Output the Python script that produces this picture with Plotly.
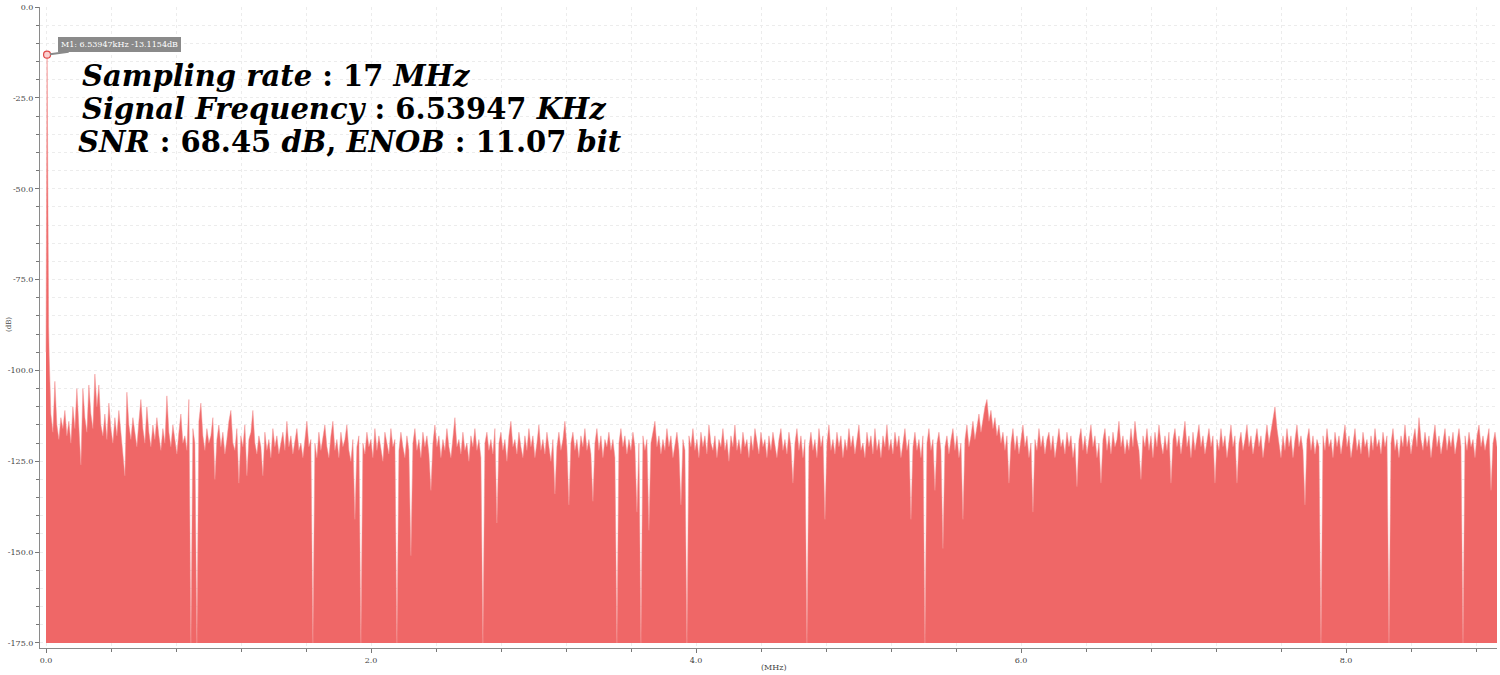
import numpy as np
import plotly.graph_objects as go

# ---------------- data ----------------
# fine bins around DC and the signal tone (MHz, dB)
peak_freq_mhz = [0.0, 0.00327, 0.00654, 0.00981, 0.01308, 0.01635, 0.01962, 0.02289, 0.02616]
peak_db = [-95.0, -30.0, -13.1154, -36.0, -83.0, -88.0, -96.0, -103.0, -109.0]

# noise floor from 0.03 MHz up to 8.929 MHz (evenly spaced bins, dB)
noise_start_mhz = 0.03
noise_stop_mhz = 8.929
noise_db = [
    -112, -117, -103, -115, -119, -113, -116, -111, -118, -114, -120, -110, -116, -105, -114, -126, -105, -113, -117, -104,
    -112, -116, -101, -110, -104, -115, -118, -112, -119, -109, -116, -120, -113, -118, -111, -117, -121, -129, -106, -115,
    -119, -113, -117, -121, -114, -108, -116, -120, -110, -117, -121, -115, -119, -113, -118, -122, -116, -120, -107, -117,
    -121, -115, -119, -123, -117, -112, -120, -118, -122, -108, -175, -116, -120, -175, -114, -109, -118, -122, -116, -120,
    -118, -113, -130, -119, -115, -121, -117, -123, -119, -114, -111, -120, -122, -116, -131, -118, -121, -115, -129, -119,
    -117, -111, -120, -123, -118, -121, -129, -117, -122, -119, -124, -116, -121, -118, -123, -120, -117, -122, -114, -121,
    -118, -123, -119, -116, -122, -120, -124, -118, -114, -121, -119, -175, -120, -124, -117, -122, -119, -115, -121, -124,
    -118, -114, -122, -119, -124, -117, -121, -119, -115, -122, -125, -119, -141, -121, -118, -175, -120, -123, -117, -121,
    -119, -124, -116, -122, -118, -121, -125, -117, -120, -123, -116, -121, -119, -175, -122, -117, -121, -124, -118, -122,
    -151, -120, -116, -122, -119, -124, -117, -121, -118, -123, -133, -120, -115, -121, -118, -124, -119, -122, -116, -121,
    -124, -118, -113, -121, -119, -123, -117, -122, -120, -125, -118, -121, -116, -122, -119, -124, -175, -120, -117, -122,
    -119, -123, -116, -142, -120, -117, -122, -119, -125, -118, -114, -121, -119, -123, -117, -121, -124, -118, -122, -116,
    -121, -118, -124, -120, -115, -122, -119, -123, -117, -121, -125, -119, -134, -121, -117, -122, -119, -114, -121, -137,
    -120, -117, -122, -119, -124, -118, -121, -116, -122, -119, -123, -136, -120, -116, -122, -118, -124, -119, -121, -117,
    -122, -119, -124, -175, -120, -116, -121, -118, -123, -119, -122, -117, -121, -139, -120, -175, -118, -122, -119, -144,
    -120, -117, -114, -121, -118, -123, -119, -122, -116, -121, -118, -124, -120, -117, -122, -137, -119, -122, -175, -118,
    -121, -116, -122, -119, -124, -117, -121, -118, -123, -115, -120, -122, -118, -124, -119, -121, -116, -122, -119, -125,
    -118, -121, -115, -122, -119, -123, -117, -121, -119, -124, -118, -122, -116, -120, -123, -117, -121, -119, -124, -118,
    -122, -117, -120, -124, -119, -116, -122, -119, -123, -117, -121, -131, -120, -116, -122, -118, -124, -119, -175, -121,
    -117, -122, -119, -124, -116, -121, -118, -141, -120, -115, -122, -119, -123, -117, -121, -118, -124, -119, -122, -116,
    -121, -118, -123, -119, -115, -122, -120, -124, -117, -121, -118, -123, -116, -122, -119, -124, -118, -121, -115, -122,
    -119, -123, -117, -121, -118, -124, -120, -116, -122, -119, -141, -121, -117, -122, -119, -124, -118, -175, -120, -116,
    -122, -119, -133, -120, -117, -122, -149, -121, -118, -123, -119, -116, -122, -118, -124, -120, -141, -119, -115, -121,
    -118, -114, -119, -116, -112, -117, -113, -110, -108, -114, -111, -116, -113, -118, -115, -120, -117, -122, -118, -131,
    -120, -116, -122, -118, -123, -119, -115, -121, -118, -124, -120, -139, -119, -122, -116, -121, -118, -123, -119, -117,
    -122, -118, -124, -120, -116, -121, -119, -123, -117, -121, -118, -124, -120, -132, -119, -116, -122, -118, -123, -119,
    -115, -121, -118, -124, -120, -131, -119, -116, -122, -118, -123, -117, -121, -119, -114, -121, -118, -123, -119, -122,
    -116, -121, -114, -119, -122, -130, -118, -121, -116, -122, -118, -124, -117, -121, -115, -120, -123, -118, -122, -117,
    -131, -119, -116, -121, -118, -123, -119, -114, -121, -118, -124, -117, -122, -119, -115, -121, -118, -123, -120, -116,
    -121, -118, -131, -119, -122, -116, -121, -118, -124, -119, -115, -121, -118, -131, -120, -117, -122, -119, -115, -121,
    -118, -123, -119, -116, -121, -118, -124, -119, -115, -120, -117, -113, -110, -116, -120, -124, -118, -122, -116, -121,
    -118, -124, -119, -115, -121, -118, -122, -137, -119, -116, -122, -118, -123, -119, -121, -175, -118, -122, -116, -121,
    -119, -124, -117, -121, -118, -123, -119, -115, -121, -118, -124, -120, -116, -122, -119, -123, -117, -121, -119, -124,
    -118, -122, -116, -121, -119, -123, -117, -121, -118, -175, -120, -116, -122, -119, -124, -118, -121, -115, -121, -118,
    -123, -119, -116, -121, -113, -119, -122, -117, -121, -118, -124, -119, -115, -121, -118, -123, -119, -116, -122, -118,
    -121, -117, -123, -119, -116, -121, -175, -118, -122, -117, -121, -119, -124, -118, -115, -121, -118, -122, -119, -116,
    -133, -120, -117, -121,
]

marker_freq_mhz = 0.00654
marker_db = -13.1154
marker_label = "M1: 6.53947kHz -13.1154dB"

floor_db = -175.0
x_tick_vals = [0.0, 2.0, 4.0, 6.0, 8.0]
x_tick_text = ["0.0", "2.0", "4.0", "6.0", "8.0"]
y_tick_vals = [0.0, -25.0, -50.0, -75.0, -100.0, -125.0, -150.0, -175.0]
y_tick_text = ["0.0", "-25.0", "-50.0", "-75.0", "-100.0", "-125.0", "-150.0", "-175.0"]

text_lines = [
    "<b><i>Sampling rate</i> : 17 <i>MHz</i></b>",
    "<b><i>Signal Frequency</i> : 6.53947 <i>KHz</i></b>",
    "<b><i>SNR</i> : 68.45 <i>dB</i>, <i>ENOB</i> : 11.07 <i>bit</i></b>",
]

# ---------------- build ----------------
noise_freq = np.linspace(noise_start_mhz, noise_stop_mhz, len(noise_db))
freq = list(peak_freq_mhz) + list(noise_freq)
db = list(peak_db) + list(noise_db)

W, H = 1500, 675
ML, MR, MT, MB = 40, 3, 7, 27
PW, PH = W - ML - MR, H - MT - MB


def paper(px, py):
    """screen pixel -> paper coordinates"""
    return (px - ML) / PW, 1 - (py - MT) / PH


fill_col = "#ef6767"

fig = go.Figure()
fig.add_trace(go.Scatter(x=freq, y=[floor_db] * len(freq), mode="lines",
                         line=dict(width=0, color=fill_col), hoverinfo="skip",
                         showlegend=False))
fig.add_trace(go.Scatter(x=freq, y=db, mode="lines", fill="tonexty",
                         fillcolor=fill_col, line=dict(width=0.5, color="#f29090"),
                         showlegend=False))
fig.add_trace(go.Scatter(x=[marker_freq_mhz], y=[marker_db], mode="markers",
                         marker=dict(symbol="circle", size=7, color="#fbd0d0",
                                     line=dict(color="#e04848", width=1.2)),
                         showlegend=False))

annotations = [
    dict(x=marker_freq_mhz, y=marker_db, xref="x", yref="y", text=marker_label,
         showarrow=True, ax=72, ay=-10, arrowhead=0, arrowwidth=2, arrowcolor="#8a8a8a",
         standoff=3, bgcolor="#8a8a8a", bordercolor="#8a8a8a", borderpad=2,
         font=dict(family="DejaVu Serif", size=8, color="white")),
]
for (lx, ly), txt in zip([(80, 76), (80, 109), (76, 142)], text_lines):
    px_, py_ = paper(lx, ly)
    annotations.append(dict(x=px_, y=py_, xref="paper", yref="paper", text=txt,
                            showarrow=False, xanchor="left", yanchor="middle",
                            font=dict(family="DejaVu Serif", size=29, color="black")))
tx, ty = paper(774, 667)
annotations.append(dict(x=tx, y=ty, xref="paper", yref="paper", text="(MHz)",
                        showarrow=False, xanchor="center", yanchor="middle",
                        font=dict(family="DejaVu Serif", size=8, color="#444")))
tx, ty = paper(9, 325)
annotations.append(dict(x=tx, y=ty, xref="paper", yref="paper", text="(dB)",
                        showarrow=False, xanchor="center", yanchor="middle", textangle=-90,
                        font=dict(family="DejaVu Serif", size=7, color="#444")))

x0 = -6 / 162.5
grid_col = "#ececec"
tick_font = dict(family="DejaVu Serif", size=8, color="#444")

fig.update_layout(
    width=W, height=H,
    margin=dict(l=ML, r=MR, t=MT, b=MB, pad=0, autoexpand=False),
    paper_bgcolor="white", plot_bgcolor="white",
    annotations=annotations,
    xaxis=dict(range=[x0, 8.929], tickmode="array", tickvals=x_tick_vals, ticktext=x_tick_text,
               automargin=False,
               ticks="outside", ticklen=4, tickcolor="#777", tickwidth=1,
               showline=True, linecolor="#8a8a8a", linewidth=1, zeroline=False,
               showgrid=True, gridcolor=grid_col, griddash="dot", gridwidth=1,
               tickfont=tick_font,
               minor=dict(tickmode="linear", tick0=0, dtick=0.4, ticks="outside", ticklen=3,
                          tickcolor="#777", showgrid=True, gridcolor=grid_col, griddash="dot")),
    yaxis=dict(range=[-176.38, 0], tickmode="array", tickvals=y_tick_vals, ticktext=y_tick_text,
               automargin=False,
               ticks="outside", ticklen=4, tickcolor="#777", tickwidth=1,
               showline=True, linecolor="#8a8a8a", linewidth=1, zeroline=False,
               showgrid=True, gridcolor=grid_col, griddash="dot", gridwidth=1,
               tickfont=tick_font,
               minor=dict(tickmode="linear", tick0=0, dtick=5, ticks="outside", ticklen=3,
                          tickcolor="#777", showgrid=True, gridcolor=grid_col, griddash="dot")),
)

fig.write_html("out.html",
               config={"displayModeBar": False},
               post_script="document.body.style.margin='0px';document.body.style.overflow='hidden';")
